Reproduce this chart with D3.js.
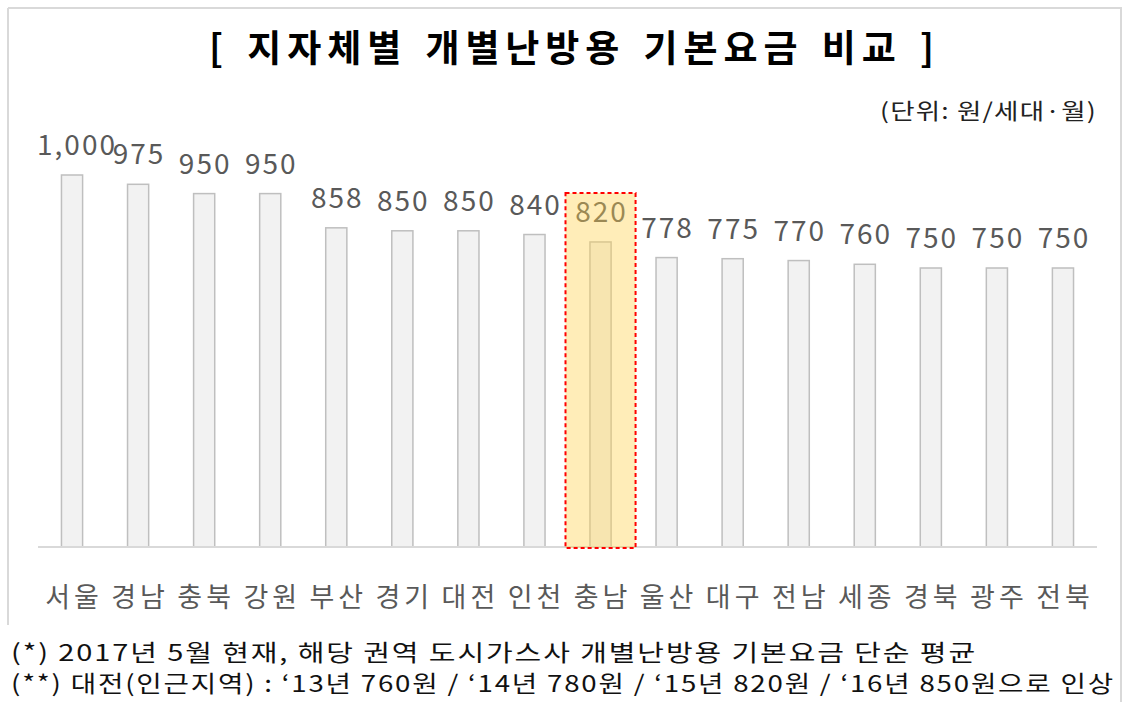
<!DOCTYPE html>
<html>
<head>
<meta charset="utf-8">
<script src="https://cdn.jsdelivr.net/npm/d3@7"></script>
<style>
	body {margin: 0; background: #fff}
	svg text {font-family: "Noto Sans CJK KR", "Noto Sans", sans-serif}
</style>
</head>
<body>
<svg width="1123" height="702"></svg>
<script>
'use strict';
// chart data
const regions = ["서울", "경남", "충북", "강원", "부산", "경기", "대전", "인천",
	"충남", "울산", "대구", "전남", "세종", "경북", "광주", "전북"]
const fees = [1000, 975, 950, 950, 858, 850, 850, 840,
	820, 778, 775, 770, 760, 750, 750, 750]
const highlight = "충남"
const titleText = "[ 지자체별 개별난방용 기본요금 비교 ]"
const unitText = "(단위: 원/세대·월)"
const notes = [
	"(*) 2017년 5월 현재, 해당 권역 도시가스사 개별난방용 기본요금 단순 평균",
	"(**) 대전(인근지역) : ‘13년 760원 / ‘14년 780원 / ‘15년 820원 / ‘16년 850원으로 인상"]
const noteWidths = [966, 1104]

let eSvg = d3.select("svg"),
	dWidth = +eSvg.attr("width"),
	dHeight = +eSvg.attr("height")

let tData = regions.map((r, i) => ({region: r, fee: fees[i]}))

let sX = d3.scaleBand().domain(regions).range([39, 1096]).paddingInner(0.68).paddingOuter(0.34)
let sY = d3.scaleLinear().domain([0, 1000]).range([547, 175])
let fmt = d3.format(",")

// frame
let eFrame = eSvg.append("g").attr("stroke", "#d9d9d9").attr("stroke-width", 2)
eFrame.append("line").attr("x1", 8).attr("x2", 1122).attr("y1", 8).attr("y2", 8)
eFrame.append("line").attr("x1", 8).attr("x2", 8).attr("y1", 8).attr("y2", 625)
eFrame.append("line").attr("x1", 1121).attr("x2", 1121).attr("y1", 8).attr("y2", 702)

// title + unit
eSvg.append("text")
	.attr("x", 209).attr("y", 62)
	.attr("font-size", 37).attr("font-weight", 700)
	.attr("letter-spacing", 3).attr("word-spacing", 4)
	.attr("textLength", 728).attr("lengthAdjust", "spacing")
	.attr("fill", "#000")
	.text(titleText)

eSvg.append("text")
	.attr("x", 880).attr("y", 119)
	.attr("font-size", 22)
	.attr("letter-spacing", 1)
	.attr("textLength", 217).attr("lengthAdjust", "spacingAndGlyphs")
	.attr("fill", "#222")
	.text(unitText)

// bars
eSvg.append("g").selectAll("rect")
	.data(tData)
	.join("rect")
	.attr("x", d => sX(d.region))
	.attr("y", d => sY(d.fee))
	.attr("width", sX.bandwidth())
	.attr("height", d => sY(0) - sY(d.fee))
	.attr("fill", "#f2f2f2")
	.attr("stroke", "#bfbfbf")
	.attr("stroke-width", 1.5)

// baseline
eSvg.append("line")
	.attr("x1", 38).attr("x2", 1097)
	.attr("y1", sY(0)).attr("y2", sY(0))
	.attr("stroke", "#d9d9d9").attr("stroke-width", 2)

// value labels
eSvg.append("g").selectAll("text")
	.data(tData)
	.join("text")
	.attr("x", d => sX(d.region) + sX.bandwidth() / 2 + (d.fee >= 1000 ? 5 : 1))
	.attr("y", d => sY(d.fee) - 20)
	.attr("text-anchor", "middle")
	.attr("font-size", 28)
	.attr("letter-spacing", 2)
	.attr("fill", "#595959")
	.text(d => fmt(d.fee))

// category labels
eSvg.append("g").selectAll("text")
	.data(tData)
	.join("text")
	.attr("x", d => sX(d.region) + sX.bandwidth() / 2 + 2)
	.attr("y", 607)
	.attr("text-anchor", "middle")
	.attr("font-size", 27)
	.attr("letter-spacing", 4)
	.attr("fill", "#595959")
	.text(d => d.region)

// highlight box over 충남
let step = sX.step()
let hx = sX(highlight) + sX.bandwidth() / 2
eSvg.append("rect")
	.attr("x", hx - step / 2 - 2)
	.attr("y", 193)
	.attr("width", step + 4)
	.attr("height", sY(0) + 1 - 193)
	.attr("fill", "#ffd24d")
	.attr("fill-opacity", 0.4)
	.attr("stroke", "#ff0000")
	.attr("stroke-width", 2)
	.attr("stroke-dasharray", "4,3")

// footnotes
eSvg.append("g").selectAll("text")
	.data(notes)
	.join("text")
	.attr("x", 11)
	.attr("y", (d, i) => 661 + i * 31)
	.attr("font-size", 23)
	.attr("letter-spacing", 1.5)
	.attr("textLength", (d, i) => noteWidths[i])
	.attr("lengthAdjust", "spacingAndGlyphs")
	.attr("fill", "#111")
	.text(d => d)
</script>
</body>
</html>
